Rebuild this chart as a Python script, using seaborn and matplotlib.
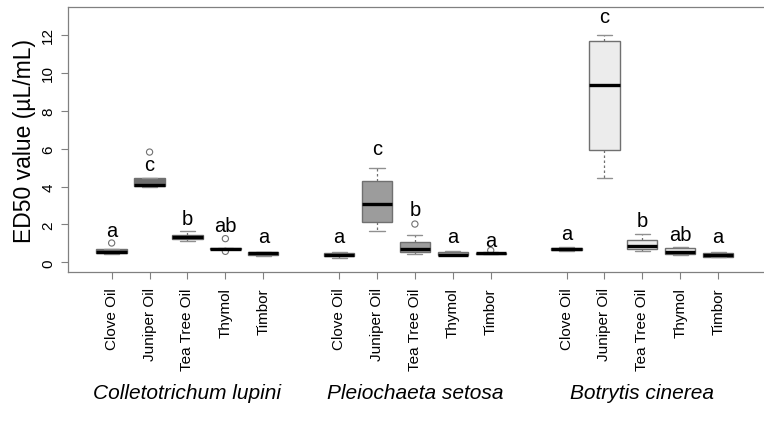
import numpy as np
import pandas as pd
import matplotlib
matplotlib.use("Agg")
import matplotlib.pyplot as plt
import matplotlib.transforms as mtransforms
import seaborn as sns

# ---- data ----
oils = ["Clove Oil", "Juniper Oil", "Tea Tree Oil", "Thymol", "Timbor"]
pathogens = ["Colletotrichum lupini", "Pleiochaeta setosa", "Botrytis cinerea"]

# five-number summaries per box (pathogen-major order, 5 oils each)
whisker_low = [0.42, 3.96, 1.11, 0.69, 0.36,
               0.23, 1.64, 0.45, 0.38, 0.42,
               0.60, 4.47, 0.60, 0.40, 0.26]
quart1 = [0.49, 4.01, 1.23, 0.71, 0.40,
          0.32, 2.11, 0.54, 0.39, 0.46,
          0.63, 5.95, 0.70, 0.44, 0.28]
medians = [0.56, 4.08, 1.34, 0.73, 0.47,
           0.39, 3.10, 0.72, 0.40, 0.49,
           0.72, 9.36, 0.88, 0.56, 0.40]
quart3 = [0.70, 4.45, 1.46, 0.75, 0.52,
          0.49, 4.31, 1.06, 0.54, 0.50,
          0.78, 11.67, 1.18, 0.74, 0.49]
whisker_high = [0.70, 4.45, 1.64, 0.77, 0.53,
                0.56, 5.00, 1.46, 0.58, 0.52,
                0.80, 12.00, 1.48, 0.79, 0.52]

# outliers: (box index, value)
outlier_box = [0, 1, 3, 3, 7, 9]
outlier_val = [1.02, 5.82, 1.25, 0.58, 2.02, 0.63]

# significance letters and their heights
letters = ["a", "c", "b", "ab", "a",
           "a", "c", "b", "a", "a",
           "a", "c", "b", "ab", "a"]
letter_y = [1.70, 5.15, 2.29, 1.93, 1.35,
            1.35, 6.02, 2.78, 1.37, 1.16,
            1.53, 13.0, 2.20, 1.46, 1.35]

group_colors = ["#6e6e6e", "#9c9c9c", "#ececec"]

# ---- build long table ----
positions = []
for g in range(len(pathogens)):
    for i in range(len(oils)):
        positions.append(g * 6 + i + 1)

rows = []
for k, pos in enumerate(positions):
    grp = pathogens[k // 5]
    for v in (whisker_low[k], quart1[k], medians[k], quart3[k], whisker_high[k]):
        rows.append({"pos": pos, "value": v, "pathogen": grp})
df = pd.DataFrame(rows)

out_df = pd.DataFrame({"pos": [positions[b] for b in outlier_box],
                       "value": outlier_val})

# ---- figure ----
sns.set_theme(style="white")
plt.rcParams["font.family"] = ["Liberation Sans", "DejaVu Sans"]
plt.rcParams["text.color"] = "black"
plt.rcParams["axes.labelcolor"] = "black"

fig = plt.figure(figsize=(7.64, 4.31), dpi=100)
ax = fig.add_axes([0.0886, 0.3666, 1 - 0.0886, 0.9807 - 0.3666])

edge = "#707070"
sns.boxplot(data=df, x="pos", y="value", hue="pathogen", native_scale=True,
            dodge=False, palette=dict(zip(pathogens, group_colors)),
            width=0.8, whis=(0, 100), showfliers=False, linecolor=edge,
            linewidth=1.0, legend=False, ax=ax,
            medianprops=dict(color="black", linewidth=2.4),
            whiskerprops=dict(linestyle=(0, (2, 2)), color=edge, linewidth=0.9),
            capprops=dict(color="#909090", linewidth=1.0))

sns.scatterplot(data=out_df, x="pos", y="value", marker="o", s=20,
                facecolor="none", edgecolor="#707070", linewidth=0.8,
                ax=ax, legend=False)

for pos, lt, ly in zip(positions, letters, letter_y):
    ax.text(pos, ly, lt, ha="center", va="center", fontsize=14.5, color="black")

ax.set_xlim(-0.16, 18.21)
ax.set_ylim(-0.51, 13.46)
ax.set_xticks(positions)
ax.set_xticklabels(oils * 3, rotation=90, fontsize=11)
ax.set_yticks([0, 2, 4, 6, 8, 10, 12])
ax.set_yticklabels(["0", "2", "4", "6", "8", "10", "12"], rotation=90,
                   va="center", fontsize=11)
ax.tick_params(axis="both", which="both", direction="out", length=5,
               width=0.8, color="#808080", labelcolor="black",
               left=True, bottom=True)
ax.tick_params(axis="x", pad=6)
ax.tick_params(axis="y", pad=4)
ax.set_xlabel("")
ax.set_ylabel("ED50 value (µL/mL)", fontsize=16.5, color="black")
ax.yaxis.set_label_coords(-0.046, 0.5)

for side in ["left", "top", "bottom"]:
    ax.spines[side].set_color("#808080")
    ax.spines[side].set_linewidth(0.9)
ax.spines["right"].set_visible(False)

trans = mtransforms.blended_transform_factory(ax.transData, ax.transAxes)
for g, name in enumerate(pathogens):
    ax.text(g * 6 + 3, -0.455, name, transform=trans, ha="center", va="center",
            fontsize=15, style="italic", color="black")

fig.savefig("out.png", dpi=100)
